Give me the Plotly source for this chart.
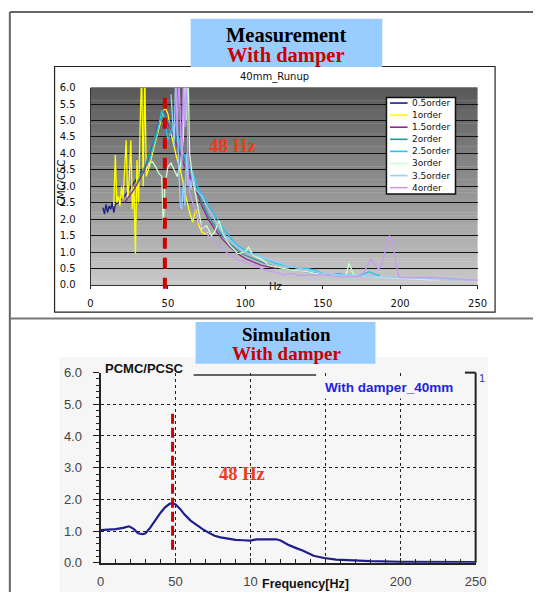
import plotly.graph_objects as go

# ---------------- data ----------------
SERIES_NAMES = ["0.5order", "1order", "1.5order", "2order", "2.5order", "3order", "3.5order", "4order"]
SERIES_COLORS = ["#1C1C8A", "#FFFF00", "#8E2A8E", "#2A9696", "#22C4F0", "#CCFFCC", "#99CCFF", "#C79CF5"]

hz_05 = [8, 9, 10, 11, 12, 13, 14, 15, 16, 18, 20, 22, 24, 26, 28, 30, 32, 34, 36, 37]
val_05 = [2.35, 2.15, 2.45, 2.2, 2.4, 2.3, 2.5, 2.2, 2.45, 2.5, 2.6, 2.7, 2.85, 2.95, 3.1, 3.25, 3.4, 3.5, 3.6, 3.65]

hz_10 = [15, 16, 17, 18, 19, 20, 21, 22, 23, 24, 25, 26, 27, 28, 29, 30, 31, 32, 33, 34, 35, 36, 38, 40,
         42, 44, 46, 48, 50, 52, 54, 56, 58, 60, 62, 64, 66, 68, 70, 72, 74, 76]
val_10 = [2.4, 3.95, 2.5, 2.7, 2.4, 3.0, 2.6, 3.5, 4.4, 2.6, 3.2, 4.4, 2.3, 3.0, 0.95, 3.8, 2.5, 4.8, 6.5, 3.0,
          6.5, 3.3, 3.6, 4.0, 4.4, 4.8, 5.1, 5.4, 5.2, 4.6, 4.2, 3.8, 3.5, 3.0, 2.6, 2.2, 1.9, 2.3, 1.8, 1.6,
          1.55, 1.6]

hz_15 = [22, 25, 28, 31, 34, 37, 40, 43, 46, 48, 50, 53, 56, 60, 64, 68, 72, 76, 80, 85, 90, 95, 100,
         105, 110, 115, 120]
val_15 = [2.5, 2.7, 2.9, 3.15, 3.4, 3.8, 4.3, 4.8, 5.2, 5.3, 4.9, 4.6, 4.2, 3.7, 3.3, 2.9, 2.4, 2.0, 1.7,
          1.4, 1.15, 0.95, 0.8, 0.7, 0.6, 0.55, 0.5]

hz_20 = [30, 33, 36, 39, 42, 45, 48, 50, 53, 56, 60, 64, 68, 72, 76, 80, 85, 90, 95, 100, 110, 120, 130,
         140, 150]
val_20 = [3.1, 3.4, 3.7, 4.2, 4.6, 5.0, 5.2, 5.0, 4.7, 4.4, 3.9, 3.4, 3.0, 2.5, 2.1, 1.8, 1.5, 1.25, 1.05,
          0.9, 0.7, 0.55, 0.45, 0.4, 0.35]

hz_25 = [37, 40, 43, 46, 48, 50, 52, 55, 58, 62, 66, 70, 74, 78, 82, 86, 90, 95, 100, 105, 110, 115, 120,
         125, 130, 135, 140, 145, 150, 155, 160, 165, 170, 175, 180, 185, 187]
val_25 = [3.6, 4.1, 4.6, 5.3, 5.0, 4.4, 4.7, 4.9, 4.2, 3.8, 3.4, 2.9, 2.6, 2.3, 2.0, 1.7, 1.45, 1.2, 1.05,
          0.95, 0.85, 0.75, 0.65, 0.6, 0.55, 0.5, 0.5, 0.45, 0.35, 0.3, 0.35, 0.3, 0.28, 0.3, 0.4, 0.3, 0.3]

hz_30 = [36, 38, 40, 42, 44, 46, 47, 48, 50, 52, 54, 56, 58, 60, 61, 62, 63, 64, 66, 68, 70, 72, 75, 78,
         80, 83, 86, 90, 95, 100, 102, 105, 110, 115, 120, 125, 130, 140, 150, 160, 165, 167, 170, 180,
         190, 200, 210, 220, 225]
val_30 = [3.5, 3.7, 3.75, 3.6, 3.4, 3.3, 1.8, 3.0, 3.6, 3.7, 3.5, 3.3, 3.6, 4.5, 6.5, 5.0, 6.5, 4.0, 3.2,
          2.7, 2.3, 1.7, 1.8, 1.5, 1.6, 1.95, 1.5, 1.2, 0.95, 1.0, 1.15, 0.9, 0.8, 0.6, 0.55, 0.5, 0.45,
          0.4, 0.3, 0.25, 0.3, 0.65, 0.3, 0.25, 0.22, 0.2, 0.18, 0.15, 0.15]

hz_35 = [52, 53, 54, 55, 56, 57, 58, 59, 60, 61, 62, 63, 64, 65, 66, 68, 70, 72, 75, 80, 85, 90, 95, 100,
         110, 120, 130, 140, 150, 160, 170, 180, 190, 200, 210, 220, 230, 240, 250]
val_35 = [5.8, 5.0, 4.2, 6.5, 4.8, 3.5, 2.4, 2.3, 3.2, 2.4, 4.0, 3.0, 3.2, 2.9, 3.4, 2.9, 2.8, 2.7, 2.4,
          2.0, 1.6, 1.35, 1.15, 1.0, 0.85, 0.7, 0.55, 0.45, 0.35, 0.3, 0.28, 0.25, 0.23, 0.2, 0.2, 0.18,
          0.17, 0.15, 0.14]

hz_40 = [55, 56, 57, 58, 59, 60, 61, 62, 63, 64, 66, 68, 70, 73, 76, 80, 85, 90, 95, 100, 105, 110, 115,
         120, 125, 130, 135, 140, 150, 160, 170, 175, 178, 181, 184, 186, 188, 190, 192, 193, 195, 197,
         199, 200, 210, 220, 230, 240, 250]
val_40 = [6.5, 4.5, 6.5, 5.0, 3.5, 6.5, 4.8, 6.5, 3.5, 2.8, 2.5, 2.2, 1.9, 1.7, 1.5, 1.3, 1.1, 0.9, 0.75,
          0.7, 0.6, 0.5, 0.42, 0.38, 0.3, 0.35, 0.28, 0.3, 0.3, 0.25, 0.25, 0.28, 0.5, 0.78, 0.6, 0.48,
          0.6, 1.0, 1.4, 1.5, 1.3, 0.8, 0.25, 0.22, 0.22, 0.23, 0.2, 0.17, 0.14]

MEAS_X = [hz_05, hz_10, hz_15, hz_20, hz_25, hz_30, hz_35, hz_40]
MEAS_Y = [val_05, val_10, val_15, val_20, val_25, val_30, val_35, val_40]

sim_hz = [0, 5, 10, 15, 19, 22, 25, 28, 30, 33, 37, 40, 43, 46, 48, 50, 53, 56, 60, 64, 68, 72, 76, 80,
          85, 90, 95, 100, 104, 110, 117, 120, 125, 130, 135, 142, 149, 157, 165, 180, 200, 220, 235, 250]
sim_val = [1.03, 1.04, 1.06, 1.1, 1.15, 1.07, 0.93, 0.9, 0.93, 1.1, 1.38, 1.58, 1.75, 1.86, 1.88, 1.84,
           1.7, 1.52, 1.33, 1.18, 1.06, 0.95, 0.85, 0.8, 0.76, 0.72, 0.71, 0.7, 0.74, 0.74, 0.74, 0.7,
           0.57, 0.47, 0.38, 0.22, 0.15, 0.1, 0.08, 0.05, 0.03, 0.02, 0.02, 0.02]

PEAK_HZ = 48
SIM_MARK_SPAN = [0.4, 4.7]
X_TICKS = [0, 50, 100, 150, 200, 250]
SIM_X_TICKTEXT = ["0", "50", "10", "", "200", "250"]

# ---------------- helpers ----------------
W, H = 544, 600


def px(x):
    return x / W


def py(y):
    return 1 - y / H


fig = go.Figure()

for name, xs, ys, col in zip(SERIES_NAMES, MEAS_X, MEAS_Y, SERIES_COLORS):
    fig.add_trace(go.Scatter(x=xs, y=ys, mode="lines", name=name, line=dict(color=col, width=1.3),
                             showlegend=False, hoverinfo="skip", xaxis="x", yaxis="y"))

fig.add_trace(go.Scatter(x=sim_hz, y=sim_val, mode="lines", name="With damper_40mm",
                         line=dict(color="#1E1E8C", width=2.2), showlegend=False,
                         hoverinfo="skip", xaxis="x2", yaxis="y2"))

shapes = []
# outer frame
shapes.append(dict(type="line", xref="paper", yref="paper", x0=px(6), x1=px(6), y0=py(5), y1=py(600),
                   line=dict(color="#666666", width=2), layer="below"))
shapes.append(dict(type="line", xref="paper", yref="paper", x0=px(6), x1=px(544), y0=py(5), y1=py(5),
                   line=dict(color="#666666", width=2), layer="below"))
shapes.append(dict(type="line", xref="paper", yref="paper", x0=px(6), x1=px(544), y0=py(319.5), y1=py(319.5),
                   line=dict(color="#777777", width=2), layer="below"))
# top chart box
shapes.append(dict(type="rect", xref="paper", yref="paper", x0=px(52), x1=px(505), y0=py(61), y1=py(313),
                   line=dict(color="#222222", width=1.2), fillcolor="white", layer="below"))
# bottom chart light background
shapes.append(dict(type="rect", xref="paper", yref="paper", x0=px(57), x1=px(498), y0=py(359), y1=py(600),
                   line=dict(width=0), fillcolor="#F6F6F6", layer="below"))
# gradient plot area for top chart
N = 60
top_c, bot_c = (88, 88, 88), (202, 202, 202)
for i in range(N):
    t = (i + 0.5) / N
    c = tuple(int(round(bot_c[k] + (top_c[k] - bot_c[k]) * t)) for k in range(3))
    shapes.append(dict(type="rect", xref="x domain", yref="y domain", x0=0, x1=1, y0=i / N, y1=(i + 1) / N + 0.002,
                       line=dict(width=0), fillcolor="rgb(%d,%d,%d)" % c, layer="below"))
# title boxes
shapes.append(dict(type="rect", xref="paper", yref="paper", x0=px(192), x1=px(389), y0=py(12), y1=py(61.5),
                   line=dict(width=0), fillcolor="#99CCFF", layer="above"))
shapes.append(dict(type="rect", xref="paper", yref="paper", x0=px(197), x1=px(382), y0=py(323), y1=py(366),
                   line=dict(width=0), fillcolor="#99CCFF", layer="above"))
# red dashed markers
shapes.append(dict(type="line", xref="x", yref="paper", x0=PEAK_HZ, x1=PEAK_HZ, y0=py(93), y1=py(298),
                   line=dict(color="#D40000", width=4, dash="11px,9px"), layer="above"))
shapes.append(dict(type="line", xref="x2", yref="y2", x0=PEAK_HZ, x1=PEAK_HZ, y0=SIM_MARK_SPAN[1],
                   y1=SIM_MARK_SPAN[0], line=dict(color="#D40000", width=3, dash="10px,4px"), layer="above"))
# bottom chart: right axis, partial top line
shapes.append(dict(type="line", xref="paper", yref="paper", x0=px(485), x1=px(485), y0=py(375), y1=py(570),
                   line=dict(color="#222222", width=2), layer="above"))
shapes.append(dict(type="line", xref="paper", yref="paper", x0=px(474), x1=px(485), y0=py(375), y1=py(375),
                   line=dict(color="#222222", width=2), layer="above"))
shapes.append(dict(type="line", xref="paper", yref="paper", x0=px(195), x1=px(321), y0=py(377.5), y1=py(377.5),
                   line=dict(color="#333333", width=1.5), layer="above"))

# manual legend
lx0, lx1, ly0, ly1 = 393.3, 464.3, 92.7, 191.7
shapes.append(dict(type="rect", xref="paper", yref="paper", x0=px(lx0), x1=px(lx1), y0=py(ly0), y1=py(ly1),
                   line=dict(color="#111111", width=1.5), fillcolor="white", layer="above"))
annotations = []
for i, (name, col) in enumerate(zip(SERIES_NAMES, SERIES_COLORS)):
    yy = 98.5 + 12.4 * i
    shapes.append(dict(type="line", xref="paper", yref="paper", x0=px(397), x1=px(415), y0=py(yy), y1=py(yy),
                       line=dict(color=col, width=1.6), layer="above"))
    annotations.append(dict(xref="paper", yref="paper", x=px(417.5), y=py(yy), text=name, showarrow=False,
                            xanchor="left", yanchor="middle",
                            font=dict(family="DejaVu Sans", size=9, color="#111111")))


def ann(x, y, text, size, color, family="Liberation Sans", xanchor="center", **kw):
    annotations.append(dict(xref="paper", yref="paper", x=px(x), y=py(y), text=text, showarrow=False,
                            xanchor=xanchor, yanchor="middle",
                            font=dict(family=family, size=size, color=color), **kw))


ann(290, 29, "<b>Measurement</b>", 20.5, "#000000", "Liberation Serif")
ann(290, 50, "<b>With damper</b>", 20.5, "#CC0000", "Liberation Serif")
ann(290, 336, "<b>Simulation</b>", 19, "#000000", "Liberation Serif")
ann(290, 355.5, "<b>With damper</b>", 19, "#CC0000", "Liberation Serif")
ann(278, 72, "40mm_Runup", 10, "#111111", "DejaVu Sans")
ann(279, 287, "Hz", 10, "#111111", "DejaVu Sans")
ann(59, 180, "CMC/CSC", 10, "#111111", "DejaVu Sans", textangle=-90)
ann(235, 142, "<b>48 Hz</b>", 19, "#EE3A1A", "Liberation Serif")
ann(245, 479, "<b>48 Hz</b>", 18.5, "#EE3A1A", "Liberation Serif")
ann(144, 371, "<b>PCMC/PCSC</b>", 13, "#111111")
ann(396, 390, "<b>With damper_40mm</b>", 13.5, "#2323E0", bgcolor="#F6F6F6", borderpad=3)
ann(492, 380, "1", 11, "#3333AA")
ann(310, 592, "<b>Frequency[Hz]</b>", 12.5, "#111111")

fig.update_layout(
    width=W, height=H, margin=dict(l=0, r=0, t=0, b=0),
    paper_bgcolor="white", plot_bgcolor="rgba(0,0,0,0)",
    showlegend=False, shapes=shapes, annotations=annotations,
    xaxis=dict(domain=[px(89), px(487)], anchor="y", range=[0, 250], tickvals=X_TICKS,
               showgrid=False, zeroline=False, showline=True, linecolor="#333333", linewidth=1,
               ticks="outside", ticklen=3, tickcolor="#222222", ticklabelstandoff=6,
               tickfont=dict(family="DejaVu Sans", size=10, color="#111111")),
    yaxis=dict(domain=[py(285), py(82.7)], anchor="x", range=[0, 6], dtick=0.5, tickformat=".1f",
               showgrid=True, gridcolor="#111111", gridwidth=1, zeroline=False, showline=True,
               linecolor="#333333", linewidth=1, ticks="", ticklabelstandoff=12,
               tickfont=dict(family="DejaVu Sans", size=10, color="#111111")),
    xaxis2=dict(domain=[px(99.3), px(485)], anchor="y2", range=[0, 250], tickvals=X_TICKS,
                ticktext=SIM_X_TICKTEXT, showgrid=True, gridcolor="#222222", gridwidth=1, griddash="dot",
                zeroline=False, showline=True, linecolor="#222222", linewidth=2,
                ticks="inside", ticklen=5, tickcolor="#222222", ticklabelstandoff=6,
                minor=dict(dtick=10, ticks="inside", ticklen=4, tickcolor="#222222", showgrid=False),
                tickfont=dict(family="Liberation Sans", size=13, color="#444444")),
    yaxis2=dict(domain=[py(570), py(375)], anchor="x2", range=[0, 6], dtick=1, tickformat=".1f",
                showgrid=True, gridcolor="#222222", gridwidth=1, griddash="3px,3px", zeroline=False,
                showline=True, linecolor="#222222", linewidth=2,
                ticks="outside", ticklen=6, tickcolor="#222222", ticklabelstandoff=8,
                minor=dict(dtick=0.2, ticks="outside", ticklen=3, tickcolor="#222222", showgrid=False),
                tickfont=dict(family="Liberation Sans", size=13, color="#444444")),
)

fig.write_html("out.html")
